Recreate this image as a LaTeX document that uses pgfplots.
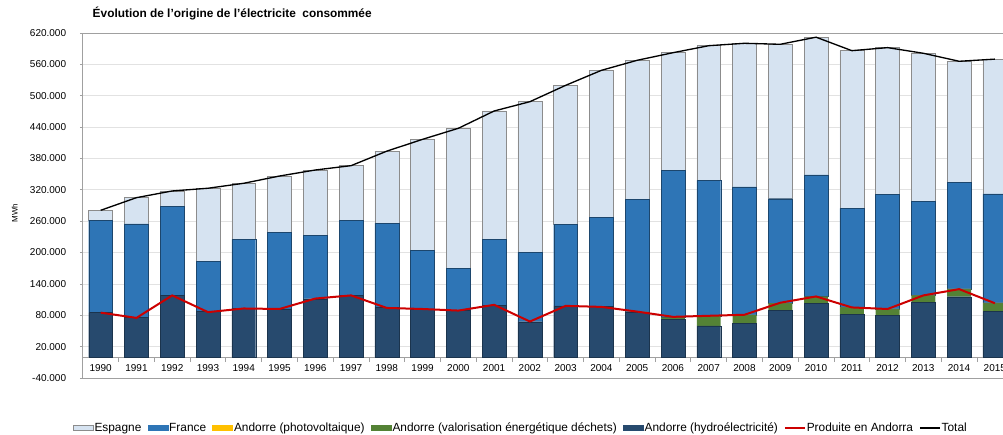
\documentclass[border=0pt]{standalone}
\usepackage{fontspec}
\setmainfont{Liberation Sans}
\usepackage{pgfplots}
\usepackage{pgfplotstable}
\pgfplotsset{compat=1.18}
\definecolor{espc}{RGB}{214,227,241}
\definecolor{frc}{RGB}{46,117,182}
\definecolor{pvc}{RGB}{255,192,0}
\definecolor{grc}{RGB}{84,130,53}
\definecolor{hyc}{RGB}{39,74,110}
\definecolor{redc}{RGB}{204,0,0}
\definecolor{framegray}{RGB}{160,160,160}
\definecolor{gridgray}{RGB}{226,226,226}
\pgfplotstableread{
year hydro green pv france espagne prod total
1990 85000 0 0 176700 19100 85000 280800
1991 75400 0 0 179600 50000 75000 305000
1992 118200 0 0 170800 28800 118000 317800
1993 87600 0 0 95600 139800 86000 323000
1994 92600 0 0 132700 107200 93000 332500
1995 92000 0 0 146700 107700 92000 346400
1996 111700 0 0 121300 124900 112000 357900
1997 118200 0 0 143500 104500 118000 366200
1998 94500 0 0 162000 137500 94000 394000
1999 92000 0 0 112300 212300 92000 416600
2000 89500 0 0 79600 268600 89000 437700
2001 99500 0 0 125100 246200 100000 470800
2002 67700 0 0 132800 288100 68000 488600
2003 97800 0 0 155500 266600 98000 519900
2004 96400 0 0 170300 281900 96000 548600
2005 86300 0 100 214700 266700 87000 567800
2006 72300 3000 100 281200 225700 77000 582300
2007 59500 19100 200 259400 257500 79000 595700
2008 65200 15300 200 244700 274900 81000 600300
2009 88800 14100 300 199800 295400 104000 598400
2010 102200 13300 400 232500 263600 116000 612000
2011 81900 12600 500 189600 301600 95000 586200
2012 80000 11400 600 218700 281300 92000 592000
2013 104100 13400 700 179800 283200 118000 581200
2014 115500 14200 800 203900 231500 130000 565900
2015 86900 16000 900 208200 258000 103000 570000
}\data
\begin{document}
\begin{tikzpicture}
\pgfplotsset{geom/.style={
  at={(62.1pt,42.75pt)}, anchor=south west,
  scale only axis, width=697.5pt, height=258.75pt,
  xmin=1989.5, xmax=2015.5, ymin=-40000, ymax=620000}}
\begin{axis}[geom, clip=false,
  axis x line*=middle, axis y line*=left,
  axis line style={draw=framegray, line width=0.6pt},
  ybar stacked, bar width=0.67,
  xtick={1990,...,2015},
  minor xtick={1989.5,1990.5,...,2015.5},
  major x tick style={draw=none},
  minor x tick style={draw=framegray, line width=0.6pt},
  y tick style={draw=framegray, line width=0.6pt},
  tick align=outside,
  major tick length=2.25pt, minor tick length=3.75pt,
  ytick={-40000,20000,...,620000},
  scaled y ticks=false,
  ymajorgrids,
  major grid style={draw=gridgray, line width=0.6pt},
  ticklabel style={font=\fontsize{7.5}{9}\selectfont},
  yticklabel style={xshift=-6.75pt, /pgf/number format/.cd, fixed, 1000 sep={.}, assume math mode=true},
  xticklabel style={/pgf/number format/.cd, 1000 sep={}, assume math mode=true},
  ylabel={MWh},
  ylabel style={at={(rel axis cs:-0.0731,0.478)}, anchor=center, font=\fontsize{6}{7}\selectfont},
]
\addplot[fill=hyc, draw=hyc!70!black, line width=0.3pt] table[x=year,y=hydro]{\data};
\addplot[fill=grc, draw=none] table[x=year,y=green]{\data};
\addplot[fill=pvc, draw=none] table[x=year,y=pv]{\data};
\addplot[fill=frc, draw=frc!60!black, line width=0.3pt] table[x=year,y=france]{\data};
\addplot[fill=espc, draw=black!45, line width=0.4pt] table[x=year,y=espagne]{\data};
\draw[framegray, line width=0.6pt] (rel axis cs:0,1) -- (rel axis cs:1,1);
\draw[framegray, line width=0.6pt] (rel axis cs:0,0) -- (rel axis cs:1,0);
\node[anchor=base west, inner sep=0pt, font=\bfseries\fontsize{8.9}{10}\selectfont] at (rel axis cs:0.0104,1.0443) {Évolution de l'origine de l'électricite\ \ consommée};
\end{axis}
\begin{axis}[geom, hide axis,
  legend columns=-1,
  legend style={at={(-0.0152,-0.1449)}, anchor=west, draw=none, fill=none,
    font=\fontsize{8.9}{10}\selectfont,
    nodes={inner xsep=0.8pt, inner ysep=0.5pt, text height=6.6pt, text depth=1.9pt, anchor=base west},
    /tikz/every even column/.append style={column sep=3.9pt}},
]
\addplot[redc, line width=1.5pt, forget plot] table[x=year,y=prod]{\data};
\addplot[black, line width=1pt, forget plot] table[x=year,y=total]{\data};
\addlegendimage{legend image code/.code={\draw[fill=espc, draw=black!45, line width=0.4pt] (0pt,0.4pt) rectangle (15pt,4.4pt);}}
\addlegendentry{Espagne}
\addlegendimage{legend image code/.code={\fill[frc] (0pt,0.4pt) rectangle (15pt,4.4pt);}}
\addlegendentry{France}
\addlegendimage{legend image code/.code={\fill[pvc] (0pt,0.4pt) rectangle (15pt,4.4pt);}}
\addlegendentry{Andorre (photovoltaique)}
\addlegendimage{legend image code/.code={\fill[grc] (0pt,0.4pt) rectangle (15pt,4.4pt);}}
\addlegendentry{Andorre (valorisation énergétique déchets)}
\addlegendimage{legend image code/.code={\fill[hyc] (0pt,0.4pt) rectangle (15pt,4.4pt);}}
\addlegendentry{Andorre (hydroélectricité)}
\addlegendimage{legend image code/.code={\draw[redc, line width=1.2pt] (0pt,2.4pt) -- (15pt,2.4pt);}}
\addlegendentry{Produite en Andorra}
\addlegendimage{legend image code/.code={\draw[black, line width=1pt] (0pt,2.4pt) -- (15pt,2.4pt);}}
\addlegendentry{Total}
\end{axis}
\pgfresetboundingbox
\path[use as bounding box] (0,0) rectangle (752.25pt,326.25pt);
\end{tikzpicture}
\end{document}
